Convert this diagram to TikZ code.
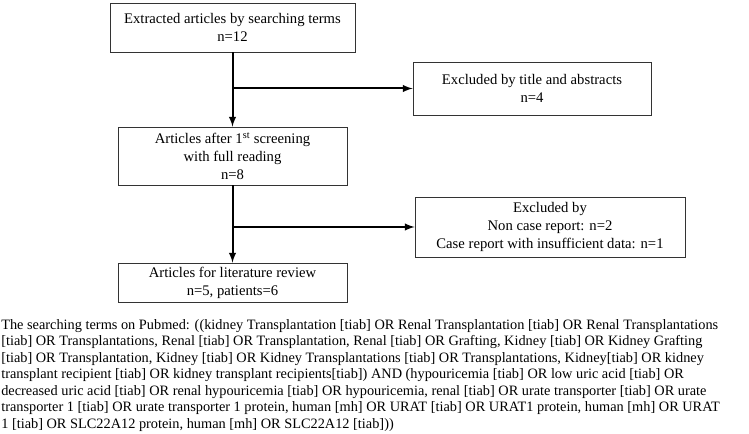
\documentclass[tikz,border=0pt]{standalone}
\usepackage{fontspec}
\setmainfont{Liberation Serif}
\usetikzlibrary{arrows}

\begin{document}
\begin{tikzpicture}[x=0.75pt,y=-0.75pt,
          box/.style={draw=black!80,line width=0.6pt,align=center,inner sep=2pt,
            font=\fontsize{11}{13.5}\selectfont},
          flow/.style={line width=1.5pt,-latex}]
          \useasboundingbox (0,0) rectangle (749,434);
          \node[box,minimum width=183.75pt,minimum height=36.75pt] (extracted) at (232.5,27.5)
            {Extracted articles by searching terms\\n=12};
          \node[box,minimum width=178.5pt,minimum height=39.75pt] (excl1) at (532,88.5)
            {Excluded by title and abstracts\\n=4};
          \node[box,minimum width=171.75pt,minimum height=43.5pt] (screened) at (232.5,156)
            {Articles after 1\textsuperscript{st} screening\\with full reading\\n=8};
          \node[box,minimum width=202.5pt,minimum height=45pt] (excl2) at (550,227)
            {Excluded by\\Non case report: n=2\\Case report with insufficient data: n=1};
          \node[box,minimum width=171.75pt,minimum height=29.25pt] (review) at (232.5,282.5)
            {Articles for literature review\\n=5, patients=6};
          % arrows
          \draw[flow] (extracted.south) -- (screened.north);
          \draw[flow] (extracted.south |- excl1.west) -- (excl1.west);
          \draw[flow] (screened.south) -- (review.north);
          \draw[flow] (screened.south |- excl2.west) -- (excl2.west);
          % search terms
          \node[anchor=north west,align=left,inner sep=0pt,font=\fontsize{10.75}{12.4}\selectfont] (terms) at (1,319)
            {The searching terms on Pubmed: ((kidney Transplantation [tiab] OR Renal Transplantation [tiab] OR Renal Transplantations\\
            {[tiab]} OR Transplantations, Renal [tiab] OR Transplantation, Renal [tiab] OR Grafting, Kidney [tiab] OR Kidney Grafting\\
            {[tiab]} OR Transplantation, Kidney [tiab] OR Kidney Transplantations [tiab] OR Transplantations, Kidney[tiab] OR kidney\\
            transplant recipient [tiab] OR kidney transplant recipients[tiab]) AND (hypouricemia [tiab] OR low uric acid [tiab] OR\\
            decreased uric acid [tiab] OR renal hypouricemia [tiab] OR hypouricemia, renal [tiab] OR urate transporter [tiab] OR urate\\
            transporter 1 [tiab] OR urate transporter 1 protein, human [mh] OR URAT [tiab] OR URAT1 protein, human [mh] OR URAT\\
            1 [tiab] OR SLC22A12 protein, human [mh] OR SLC22A12 [tiab]))};
        \end{tikzpicture}
\end{document}
